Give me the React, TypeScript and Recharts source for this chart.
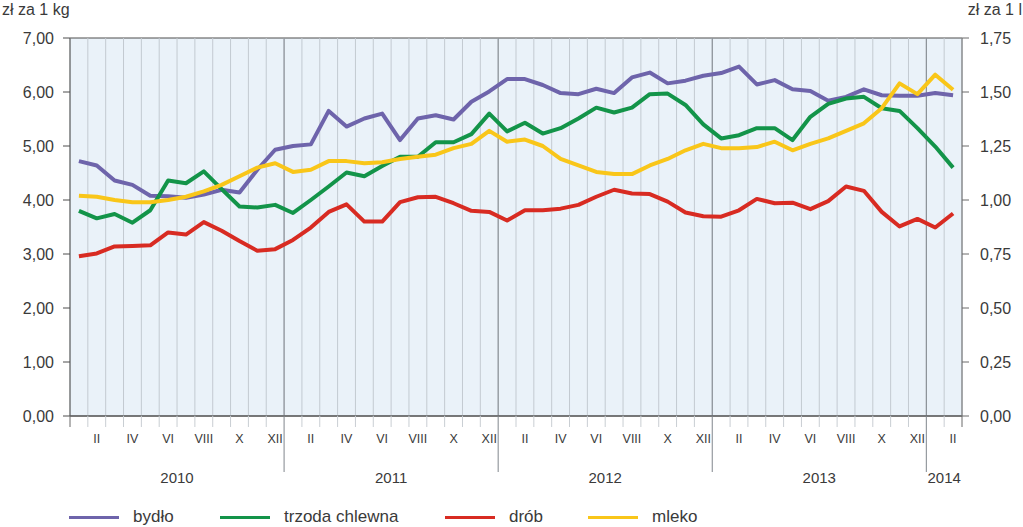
import React from "react";
import {
  LineChart,
  Line,
  XAxis,
  YAxis,
  CartesianGrid,
  ReferenceLine,
} from "recharts";

// monthly prices, I 2010 - II 2014
const years = ["2010", "2011", "2012", "2013", "2014"];
const romanMonths = ["I", "II", "III", "IV", "V", "VI", "VII", "VIII", "IX", "X", "XI", "XII"];

const bydlo = [
  4.72, 4.64, 4.36, 4.28, 4.08, 4.07, 4.04, 4.1, 4.19, 4.14, 4.56, 4.93,
  5.0, 5.03, 5.65, 5.36, 5.51, 5.6, 5.11, 5.51, 5.57, 5.49, 5.82, 6.01,
  6.24, 6.24, 6.13, 5.98, 5.96, 6.06, 5.98, 6.27, 6.36, 6.16, 6.21, 6.3,
  6.35, 6.47, 6.14, 6.22, 6.05, 6.02, 5.84, 5.91, 6.05, 5.94, 5.93, 5.93,
  5.98, 5.94,
];
const trzoda = [
  3.8, 3.66, 3.74, 3.58, 3.81, 4.36, 4.31, 4.53, 4.2, 3.88, 3.86, 3.91,
  3.76, 4.0, 4.25, 4.51, 4.44, 4.63, 4.8, 4.8, 5.07, 5.07, 5.22, 5.6,
  5.27, 5.43, 5.23, 5.33, 5.51, 5.71, 5.62, 5.71, 5.96, 5.97, 5.76, 5.4,
  5.14, 5.2, 5.33, 5.33, 5.11, 5.54, 5.78, 5.88, 5.91, 5.7, 5.65, 5.33,
  4.99, 4.6,
];
const drob = [
  2.96, 3.01, 3.14, 3.15, 3.16, 3.4, 3.36, 3.59, 3.43, 3.24, 3.06, 3.09,
  3.26, 3.49, 3.78, 3.92, 3.6, 3.6, 3.96, 4.05, 4.06, 3.94, 3.8, 3.78,
  3.62, 3.81, 3.81, 3.84, 3.91, 4.06, 4.19, 4.12, 4.11, 3.97, 3.77, 3.7,
  3.69, 3.81, 4.02, 3.94, 3.95, 3.83, 3.98, 4.25, 4.17, 3.78, 3.51, 3.65,
  3.49, 3.75,
];
// zł za 1 l (right axis)
const mleko = [
  1.02, 1.015, 1.0, 0.99, 0.99, 1.0, 1.015, 1.04, 1.07, 1.11, 1.15, 1.17,
  1.13, 1.14, 1.18, 1.18, 1.17, 1.175, 1.19, 1.2, 1.21, 1.24, 1.26, 1.32,
  1.27, 1.28, 1.25, 1.19, 1.16, 1.13, 1.12, 1.12, 1.16, 1.19, 1.23, 1.26,
  1.24, 1.24, 1.245, 1.27, 1.23, 1.26, 1.285, 1.32, 1.355, 1.425, 1.54, 1.49,
  1.58, 1.51,
];

const leftTicks = [0, 1, 2, 3, 4, 5, 6, 7];
const rightTicks = [0, 0.25, 0.5, 0.75, 1, 1.25, 1.5, 1.75];

const series = [
  { key: "bydlo", name: "bydło", color: "#6e64ab", axis: "left" },
  { key: "trzoda", name: "trzoda chlewna", color: "#139449", axis: "left" },
  { key: "drob", name: "drób", color: "#d82b22", axis: "left" },
  { key: "mleko", name: "mleko", color: "#f9c619", axis: "right" },
];

const data = bydlo.map((v, i) => ({
  idx: i,
  bydlo: v,
  trzoda: trzoda[i],
  drob: drob[i],
  mleko: mleko[i],
}));

// month boundaries (-0.5 ... 49.5)
const boundaries = [...data.map((d) => d.idx - 0.5), data.length - 0.5];
const yearLines = boundaries.filter((b) => {
  const n = Math.round(b + 0.5);
  return n % 12 === 0 && n > 0 && n < data.length;
});

const W = 1023;
const H = 527;
const PLOT_LEFT = 70;
const PLOT_RIGHT = 962;
const HALF_MONTH = (PLOT_RIGHT - PLOT_LEFT) / data.length / 2;
const TEXT = "#3a3a3a";

const fmt = (v: number) => v.toFixed(2).replace(".", ",");

function MonthTick(props: any) {
  const { x, y, payload } = props;
  const next = Math.round(payload.value + 0.5);
  const isYear = next % 12 === 0 && next > 0 && next < data.length;
  const isEdge = next === 0 || next === data.length;
  const len = isYear ? 56 : 11;
  const stroke = isYear ? "#80868c" : isEdge ? "#6a6a6a" : "#c9ced3";
  let yearLabel: string | null = null;
  if (next % 12 === 6) yearLabel = years[Math.floor(next / 12)];
  if (next === data.length - 1 && data.length % 12 === 2) yearLabel = years[Math.floor(next / 12)];
  const showMonth = next < data.length && next % 2 === 1;
  return (
    <g>
      <line x1={x} y1={y} x2={x} y2={y + len} stroke={stroke} strokeWidth={1} />
      {showMonth && (
        <text x={x + HALF_MONTH} y={y + 27} textAnchor="middle" fontSize={12.5} fill={TEXT}>
          {romanMonths[next % 12]}
        </text>
      )}
      {yearLabel && (
        <text x={x} y={y + 67} textAnchor="middle" fontSize={15} fill={TEXT}>
          {yearLabel}
        </text>
      )}
    </g>
  );
}

export default function App() {
  return (
    <div
      style={{
        position: "absolute",
        left: 0,
        top: 0,
        width: W,
        height: H,
        fontFamily: "'Liberation Sans', Arial, sans-serif",
        color: TEXT,
        background: "#fff",
      }}
    >
      <div style={{ position: "absolute", left: 2, top: 1, fontSize: 16 }}>zł za 1 kg</div>
      <div style={{ position: "absolute", right: 1, top: 1, fontSize: 16 }}>zł za 1 l</div>

      <LineChart width={W} height={H} data={data} margin={{ top: 38, right: 0, bottom: 0, left: 0 }}>
        <CartesianGrid
          fill="#eaf2f9"
          stroke="#c3cad1"
          horizontal={(p: any) => (
            <line key={p.key} x1={p.x1} y1={p.y1} x2={p.x2} y2={p.y2} stroke="#4d4d4d" strokeWidth={1} />
          )}
        />
        <XAxis
          dataKey="idx"
          type="number"
          domain={[-0.5, data.length - 0.5]}
          ticks={boundaries}
          interval={0}
          tickLine={false}
          tickSize={0}
          tickMargin={0}
          tick={<MonthTick />}
          axisLine={{ stroke: "#4d4d4d" }}
          height={111}
        />
        <YAxis
          yAxisId="left"
          domain={[0, 7]}
          ticks={leftTicks}
          interval={0}
          width={70}
          tickSize={7}
          tickMargin={9}
          tickFormatter={fmt}
          tick={{ fill: TEXT, fontSize: 16 }}
          axisLine={{ stroke: "#4d4d4d" }}
          tickLine={{ stroke: "#4d4d4d" }}
        />
        <YAxis
          yAxisId="right"
          orientation="right"
          domain={[0, 1.75]}
          ticks={rightTicks}
          interval={0}
          width={61}
          tickSize={7}
          tickMargin={11}
          tickFormatter={fmt}
          tick={{ fill: TEXT, fontSize: 16, textAnchor: "start" }}
          axisLine={{ stroke: "#6a6a6a" }}
          tickLine={{ stroke: "#6a6a6a" }}
        />
        {yearLines.map((b) => (
          <ReferenceLine key={b} x={b} yAxisId="left" stroke="#80868c" strokeWidth={1} />
        ))}
        {series.map((s) => (
          <Line
            key={s.key}
            yAxisId={s.axis}
            dataKey={s.key}
            name={s.name}
            stroke={s.color}
            strokeWidth={4}
            strokeLinejoin="round"
            dot={false}
            activeDot={false}
            isAnimationActive={false}
          />
        ))}
      </LineChart>

      <div style={{ position: "absolute", left: 0, top: 505, height: 24, width: W }}>
        {series.map((s, i) => {
          const lefts = [69, 220, 445, 588];
          return (
            <div
              key={s.key}
              style={{
                position: "absolute",
                left: lefts[i],
                top: 0,
                display: "flex",
                alignItems: "center",
                height: 24,
                fontSize: 17,
                whiteSpace: "nowrap",
              }}
            >
              <span style={{ display: "inline-block", width: 50, height: 3, background: s.color, marginRight: 14 }} />
              <span>{s.name}</span>
            </div>
          );
        })}
      </div>
    </div>
  );
}
